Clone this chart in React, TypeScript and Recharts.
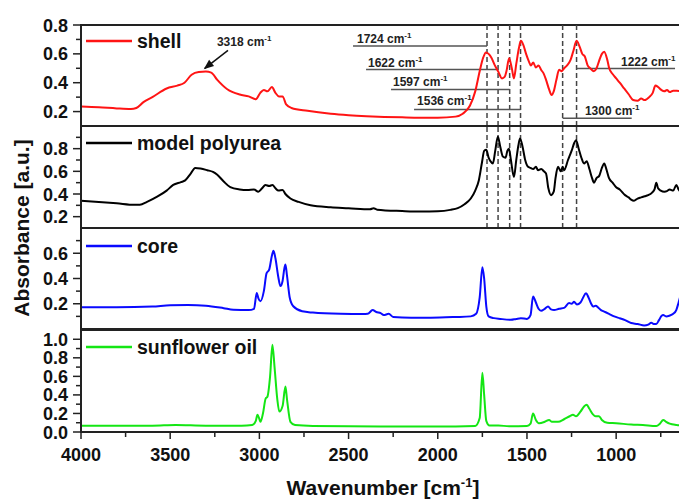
import { LineChart, Line, XAxis, YAxis, ReferenceLine, ReferenceArea, ReferenceDot, Legend, Label } from "recharts"

const FONT = '"Liberation Sans", Arial, sans-serif'

// FTIR spectra (wavenumber in cm-1, absorbance in a.u.)
const shellWn = [4000, 3900, 3800, 3720, 3690, 3650, 3600, 3520, 3460, 3420, 3380, 3340, 3300, 3270, 3236, 3180, 3110, 3060, 3020, 2995, 2975, 2955, 2930, 2910, 2890, 2870, 2850, 2820, 2730, 2600, 2500, 2400, 2300, 2200, 2100, 2000, 1900, 1860, 1820, 1790, 1765, 1745, 1730, 1715, 1700, 1680, 1662, 1640, 1625, 1615, 1600, 1585, 1573, 1560, 1545, 1534, 1520, 1505, 1490, 1478, 1465, 1450, 1435, 1421, 1405, 1393, 1375, 1362, 1350, 1335, 1320, 1305, 1292, 1275, 1255, 1240, 1222, 1205, 1190, 1175, 1160, 1145, 1125, 1110, 1096, 1080, 1067, 1050, 1039, 1020, 1000, 980, 955, 930, 905, 880, 860, 840, 815, 795, 780, 765, 747, 730, 715, 700, 680, 660, 640]
const shellAbs = [0.235, 0.23, 0.222, 0.218, 0.225, 0.265, 0.3, 0.36, 0.38, 0.4, 0.455, 0.474, 0.477, 0.47, 0.42, 0.355, 0.318, 0.305, 0.285, 0.33, 0.35, 0.34, 0.37, 0.33, 0.305, 0.305, 0.25, 0.225, 0.205, 0.185, 0.175, 0.168, 0.163, 0.16, 0.158, 0.158, 0.165, 0.185, 0.24, 0.34, 0.48, 0.575, 0.61, 0.6, 0.575, 0.52, 0.48, 0.43, 0.44, 0.48, 0.57, 0.5, 0.43, 0.53, 0.64, 0.69, 0.66, 0.6, 0.55, 0.52, 0.54, 0.505, 0.52, 0.49, 0.46, 0.42, 0.35, 0.315, 0.34, 0.42, 0.49, 0.48, 0.5, 0.52, 0.56, 0.62, 0.69, 0.65, 0.6, 0.58, 0.52, 0.5, 0.48, 0.5, 0.55, 0.6, 0.615, 0.56, 0.5, 0.46, 0.43, 0.4, 0.36, 0.32, 0.28, 0.275, 0.29, 0.28, 0.3, 0.33, 0.38, 0.37, 0.35, 0.34, 0.35, 0.335, 0.345, 0.345, 0.34]

const polyWn = [4000, 3900, 3800, 3700, 3670, 3630, 3573, 3520, 3483, 3440, 3416, 3385, 3360, 3330, 3292, 3260, 3236, 3200, 3163, 3110, 3067, 3030, 3006, 2985, 2966, 2945, 2927, 2910, 2893, 2870, 2854, 2826, 2780, 2713, 2600, 2500, 2380, 2360, 2340, 2200, 2096, 2000, 1930, 1888, 1850, 1815, 1790, 1770, 1752, 1740, 1728, 1715, 1705, 1691, 1678, 1663, 1650, 1635, 1620, 1610, 1601, 1590, 1573, 1560, 1548, 1539, 1525, 1510, 1494, 1480, 1465, 1450, 1438, 1420, 1405, 1393, 1380, 1365, 1350, 1340, 1326, 1310, 1300, 1292, 1270, 1250, 1235, 1225, 1210, 1195, 1180, 1165, 1150, 1135, 1124, 1110, 1095, 1080, 1067, 1055, 1040, 1020, 1000, 980, 950, 930, 916, 900, 880, 860, 840, 821, 800, 785, 775, 765, 750, 730, 715, 700, 680, 663, 650, 640]
const polyAbs = [0.34, 0.33, 0.318, 0.305, 0.305, 0.33, 0.376, 0.43, 0.48, 0.505, 0.52, 0.58, 0.63, 0.625, 0.61, 0.595, 0.57, 0.51, 0.46, 0.44, 0.435, 0.44, 0.42, 0.45, 0.48, 0.47, 0.48, 0.45, 0.43, 0.435, 0.4, 0.36, 0.33, 0.3, 0.283, 0.275, 0.265, 0.275, 0.262, 0.25, 0.245, 0.248, 0.26, 0.275, 0.31, 0.36, 0.43, 0.52, 0.68, 0.78, 0.79, 0.72, 0.69, 0.67, 0.78, 0.905, 0.82, 0.73, 0.72, 0.78, 0.8, 0.7, 0.55, 0.7, 0.83, 0.89, 0.82, 0.7, 0.64, 0.63, 0.62, 0.64, 0.61, 0.62, 0.6, 0.58, 0.45, 0.39, 0.42, 0.54, 0.64, 0.6, 0.64, 0.61, 0.7, 0.78, 0.85, 0.875, 0.8, 0.72, 0.67, 0.69, 0.62, 0.54, 0.5, 0.54, 0.56, 0.63, 0.67, 0.62, 0.54, 0.5, 0.46, 0.44, 0.39, 0.37, 0.35, 0.34, 0.36, 0.37, 0.38, 0.39, 0.41, 0.44, 0.5, 0.45, 0.43, 0.42, 0.425, 0.44, 0.43, 0.48, 0.44, 0.42]

const coreWn = [4000, 3800, 3600, 3500, 3400, 3300, 3200, 3146, 3060, 3030, 3015, 3005, 2994, 2975, 2960, 2945, 2930, 2921, 2910, 2895, 2882, 2870, 2860, 2854, 2845, 2830, 2810, 2760, 2700, 2545, 2420, 2393, 2365, 2345, 2320, 2303, 2275, 2250, 2150, 2039, 1900, 1815, 1785, 1765, 1750, 1740, 1728, 1715, 1685, 1650, 1590, 1560, 1534, 1500, 1480, 1466, 1450, 1435, 1421, 1400, 1382, 1365, 1348, 1320, 1292, 1264, 1250, 1236, 1220, 1200, 1185, 1169, 1155, 1140, 1129, 1115, 1101, 1085, 1067, 1040, 1011, 980, 950, 916, 880, 843, 820, 803, 790, 775, 760, 745, 736, 720, 702, 680, 663, 650, 640]
const coreAbs = [0.172, 0.172, 0.178, 0.188, 0.19, 0.185, 0.165, 0.152, 0.15, 0.16, 0.285, 0.24, 0.22, 0.3, 0.44, 0.47, 0.58, 0.62, 0.56, 0.42, 0.34, 0.38, 0.48, 0.51, 0.42, 0.25, 0.18, 0.14, 0.13, 0.12, 0.118, 0.12, 0.15, 0.135, 0.125, 0.11, 0.12, 0.095, 0.09, 0.09, 0.095, 0.1, 0.12, 0.25, 0.49, 0.4, 0.18, 0.1, 0.086, 0.08, 0.073, 0.08, 0.085, 0.08, 0.11, 0.257, 0.21, 0.16, 0.144, 0.16, 0.178, 0.155, 0.15, 0.16, 0.167, 0.205, 0.2, 0.215, 0.195, 0.21, 0.25, 0.284, 0.25, 0.2, 0.178, 0.185, 0.17, 0.15, 0.138, 0.12, 0.1, 0.085, 0.07, 0.047, 0.04, 0.028, 0.035, 0.05, 0.04, 0.04, 0.07, 0.105, 0.11, 0.1, 0.105, 0.12, 0.15, 0.21, 0.26]

const oilWn = [4000, 3600, 3470, 3300, 3100, 3040, 3020, 3011, 3000, 2994, 2980, 2965, 2955, 2940, 2927, 2915, 2900, 2888, 2870, 2854, 2845, 2826, 2800, 2700, 2500, 2200, 1900, 1790, 1765, 1750, 1740, 1728, 1710, 1660, 1600, 1500, 1480, 1466, 1450, 1433, 1400, 1376, 1360, 1326, 1290, 1260, 1242, 1225, 1200, 1180, 1165, 1150, 1130, 1115, 1096, 1080, 1050, 1000, 916, 850, 775, 755, 736, 720, 700, 660, 640]
const oilAbs = [0.068, 0.068, 0.075, 0.068, 0.068, 0.075, 0.12, 0.185, 0.14, 0.11, 0.2, 0.36, 0.38, 0.6, 0.94, 0.7, 0.36, 0.22, 0.28, 0.49, 0.35, 0.11, 0.075, 0.065, 0.062, 0.06, 0.06, 0.065, 0.15, 0.64, 0.4, 0.12, 0.07, 0.07, 0.062, 0.065, 0.09, 0.2, 0.13, 0.094, 0.11, 0.13, 0.11, 0.11, 0.14, 0.17, 0.185, 0.17, 0.22, 0.275, 0.293, 0.25, 0.19, 0.17, 0.17, 0.13, 0.1, 0.095, 0.08, 0.075, 0.065, 0.09, 0.13, 0.11, 0.09, 0.075, 0.07]

// band positions marked by dashed lines
const markerWn = [1724, 1662, 1597, 1536, 1300, 1222]

const xMajor = [4000, 3500, 3000, 2500, 2000, 1500, 1000]
const xMinor = [3750, 3250, 2750, 2250, 1750, 1250, 750]

// peak labels in the shell panel (text spot + leader line, in data units)
const notes = [
  { text: "1724", x: 2453, y: 0.705, from: 2475, to: 1724, lineY: 0.654 },
  { text: "1622", x: 2391, y: 0.539, from: 2402, to: 1662, lineY: 0.491 },
  { text: "1597", x: 2251, y: 0.406, from: 2262, to: 1597, lineY: 0.353 },
  { text: "1536", x: 2116, y: 0.272, from: 2133, to: 1536, lineY: 0.215 },
  { text: "1300", x: 1175, y: 0.203, from: 1300, to: 913, lineY: 0.153 },
  { text: "1222", x: 973, y: 0.543, from: 1222, to: 670, lineY: 0.498 },
]

const toPts = (wn: number[], ab: number[]) => wn.map((w, i) => ({ w, a: ab[i] }))

const panels = [
  { name: "shell", color: "#ff1414", data: toPts(shellWn, shellAbs), domain: [0.1, 0.8], major: [0.2, 0.4, 0.6, 0.8], minor: [0.3, 0.5, 0.7], top: 25, bottom: 126 },
  { name: "model polyurea", color: "#000000", data: toPts(polyWn, polyAbs), domain: [0.1, 1.0], major: [0.2, 0.4, 0.6, 0.8], minor: [0.3, 0.5, 0.7, 0.9], top: 126, bottom: 228 },
  { name: "core", color: "#0a0aff", data: toPts(coreWn, coreAbs), domain: [0, 0.8], major: [0.2, 0.4, 0.6], minor: [0.1, 0.3, 0.5, 0.7], top: 228, bottom: 329 },
  { name: "sunflower oil", color: "#14e614", data: toPts(oilWn, oilAbs), domain: [0, 1.1], major: [0, 0.2, 0.4, 0.6, 0.8, 1.0], minor: [0.1, 0.3, 0.5, 0.7, 0.9], top: 330, bottom: 432 },
]

const X_DOMAIN = [530, 4000]
const AX = "#222"

function YTick(props: any) {
  const { x, y, payload, majors } = props
  const big = majors.some((m: number) => Math.abs(m - payload.value) < 1e-6)
  return (
    <g>
      <line x1={x} x2={x - (big ? 8 : 5)} y1={y} y2={y} stroke={AX} strokeWidth={1.5} />
      {big && (
        <text x={x - 13} y={y + 6.5} textAnchor="end" fontSize={18} fontWeight="bold" fontFamily={FONT} fill="#111">
          {payload.value.toFixed(1)}
        </text>
      )}
    </g>
  )
}

function XTick(props: any) {
  const { x, y, payload } = props
  const big = xMajor.includes(payload.value)
  return (
    <g>
      <line x1={x} x2={x} y1={y} y2={y + (big ? 7 : 5)} stroke={AX} strokeWidth={1.5} />
      {big && (
        <text x={x} y={y + 28.5} textAnchor="middle" fontSize={18} fontWeight="bold" fontFamily={FONT} fill="#111">
          {payload.value}
        </text>
      )}
    </g>
  )
}

function NoteText(props: any) {
  const { cx, cy, text } = props
  return (
    <text x={cx} y={cy + 4} fontSize={12} fontWeight="bold" fontFamily={FONT} fill="#222">
      {text} cm<tspan fontSize={8} dy={-5}>-1</tspan>
    </text>
  )
}

function ArrowHead(props: any) {
  const { cx, cy } = props
  const ang = (Math.atan2(19, -24) * 180) / Math.PI
  return (
    <polygon
      points={`${cx},${cy} ${cx - 10},${cy - 4} ${cx - 10},${cy + 4}`}
      transform={`rotate(${ang} ${cx} ${cy})`}
      fill="#111"
    />
  )
}

function LegendItem({ name, color }: { name: string; color: string }) {
  return (
    <div style={{ display: "flex", alignItems: "center", height: 22, fontFamily: FONT, fontWeight: "bold", fontSize: 19.5, color: "#111", whiteSpace: "nowrap" }}>
      <svg width={46} height={4} style={{ display: "block" }}>
        <line x1={0} x2={46} y1={2} y2={2} stroke={color} strokeWidth={2.5} />
      </svg>
      <span style={{ marginLeft: 5, lineHeight: "22px" }}>{name}</span>
    </div>
  )
}

function Panel({ p, idx }: { p: (typeof panels)[number]; idx: number }) {
  const last = idx === panels.length - 1
  const legendY = [41, 143, 246, 347][idx]
  return (
    <div style={{ position: "absolute", left: 0, top: 0 }}>
      <LineChart
        width={700}
        height={500}
        margin={{ top: p.top, bottom: last ? 500 - p.bottom - 60 : 500 - p.bottom, left: 21, right: 0 }}
      >
        <XAxis
          dataKey="w"
          type="number"
          domain={X_DOMAIN}
          reversed
          allowDataOverflow
          hide={!last}
          ticks={[...xMajor, ...xMinor].sort((a, b) => b - a)}
          interval={0}
          tick={<XTick />}
          tickLine={false}
          tickSize={0}
          tickMargin={0}
          height={60}
          axisLine={{ stroke: AX, strokeWidth: 2 }}
        >
          {last && (
            <Label
              content={() => (
                <text x={383} y={495} textAnchor="middle" fontSize={21} fontWeight="bold" fontFamily={FONT} fill="#111">
                  Wavenumber [cm<tspan fontSize={13} dy={-8}>-1</tspan>
                  <tspan dy={8}>]</tspan>
                </text>
              )}
            />
          )}
        </XAxis>
        <YAxis
          type="number"
          domain={p.domain}
          allowDataOverflow
          ticks={[...p.major, ...p.minor]}
          interval={0}
          tick={<YTick majors={p.major} />}
          tickLine={false}
          tickSize={0}
          tickMargin={0}
          width={60}
          axisLine={{ stroke: AX, strokeWidth: 2 }}
        >
          {idx === 0 && (
            <Label
              content={() => (
                <text transform="translate(29,228) rotate(-90)" textAnchor="middle" fontSize={21} fontWeight="bold" fontFamily={FONT} fill="#111">
                  Absorbance [a.u.]
                </text>
              )}
            />
          )}
        </YAxis>
        <ReferenceArea
          x1={X_DOMAIN[0]}
          x2={X_DOMAIN[1]}
          y1={p.domain[0]}
          y2={p.domain[1]}
          fill="none"
          fillOpacity={0}
          stroke={AX}
          strokeWidth={2}
          ifOverflow="visible"
        />
        {idx < 2 &&
          markerWn.map((w) => (
            <ReferenceLine key={w} x={w} stroke="#444" strokeWidth={1.5} strokeDasharray="5 3" />
          ))}
        {idx === 0 &&
          notes.map((n) => (
            <ReferenceLine
              key={"l" + n.text}
              segment={[{ x: n.from, y: n.lineY }, { x: n.to, y: n.lineY }]}
              stroke="#555"
              strokeWidth={1.5}
            />
          ))}
        {idx === 0 &&
          notes.map((n) => (
            <ReferenceDot key={"t" + n.text} x={n.x} y={n.y} r={1} shape={(s: any) => <NoteText {...s} text={n.text} />} />
          ))}
        {idx === 0 && (
          <ReferenceLine segment={[{ x: 3176, y: 0.624 }, { x: 3306, y: 0.5 }]} stroke="#111" strokeWidth={1.5} />
        )}
        {idx === 0 && <ReferenceDot x={3312} y={0.494} r={1} shape={(s: any) => <ArrowHead {...s} />} />}
        {idx === 0 && <ReferenceDot x={3238} y={0.679} r={1} shape={(s: any) => <NoteText {...s} text="3318" />} />}
        <Line
          data={p.data}
          dataKey="a"
          name={p.name}
          type="monotone"
          stroke={p.color}
          strokeWidth={2}
          dot={false}
          isAnimationActive={false}
        />
        <Legend
          layout="vertical"
          align="center"
          verticalAlign="middle"
          wrapperStyle={{ left: 86, top: legendY - 11 }}
          content={() => <LegendItem name={p.name} color={p.color} />}
        />
      </LineChart>
    </div>
  )
}

export default function App() {
  return (
    <div style={{ position: "absolute", left: 0, top: 0, width: 679, height: 500, overflow: "hidden", background: "#fff", fontFamily: FONT }}>
      {panels.map((p, i) => (
        <Panel key={p.name} p={p} idx={i} />
      ))}
    </div>
  )
}
